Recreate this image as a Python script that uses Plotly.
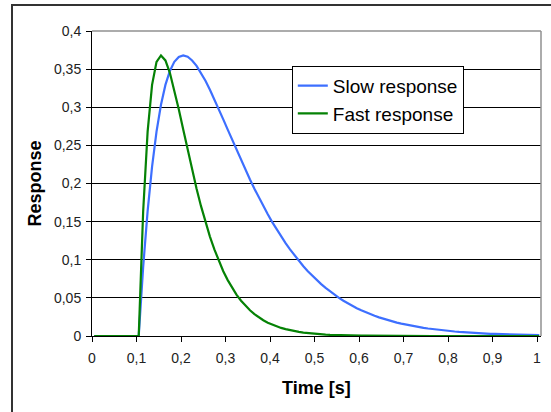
import plotly.graph_objects as go

time_s = [
    0.005, 0.015, 0.025, 0.035, 0.045, 0.055, 0.065, 0.075, 0.085, 0.095,
    0.105, 0.115, 0.125, 0.135, 0.145, 0.155, 0.165, 0.175, 0.185, 0.195,
    0.205, 0.215, 0.225, 0.235, 0.245, 0.255, 0.265, 0.275, 0.285, 0.295,
    0.305, 0.315, 0.325, 0.335, 0.345, 0.355, 0.365, 0.375, 0.385, 0.395,
    0.405, 0.415, 0.425, 0.435, 0.445, 0.455, 0.465, 0.475, 0.485, 0.495,
    0.505, 0.515, 0.525, 0.535, 0.545, 0.555, 0.565, 0.575, 0.585, 0.595,
    0.605, 0.615, 0.625, 0.635, 0.645, 0.655, 0.665, 0.675, 0.685, 0.695,
    0.705, 0.715, 0.725, 0.735, 0.745, 0.755, 0.765, 0.775, 0.785, 0.795,
    0.805, 0.815, 0.825, 0.835, 0.845, 0.855, 0.865, 0.875, 0.885, 0.895,
    0.905, 0.915, 0.925, 0.935, 0.945, 0.955, 0.965, 0.975, 0.985, 0.995,
    1.005,
]

slow_response = [
    0, 0, 0, 0, 0, 0, 0, 0, 0, 0, 0,
    0.0905, 0.1637, 0.2222, 0.2681, 0.3033, 0.3293, 0.3476, 0.3595, 0.3659, 0.3679,
    0.3662, 0.3614, 0.3543, 0.3452, 0.3347, 0.3230, 0.3106, 0.2975, 0.2841, 0.2707,
    0.2572, 0.2438, 0.2306, 0.2177, 0.2052, 0.1931, 0.1815, 0.1703, 0.1596, 0.1494,
    0.1397, 0.1304, 0.1217, 0.1135, 0.1057, 0.0984, 0.0915, 0.0850, 0.0790, 0.0733,
    0.0680, 0.0630, 0.0584, 0.0540, 0.0500, 0.0462, 0.0427, 0.0395, 0.0365, 0.0337,
    0.0311, 0.0287, 0.0265, 0.0244, 0.0225, 0.0207, 0.0191, 0.0175, 0.0162, 0.0149,
    0.0137, 0.0126, 0.0116, 0.0106, 0.0098, 0.0090, 0.0082, 0.0076, 0.0070, 0.0064,
    0.0059, 0.0054, 0.0049, 0.0045, 0.0041, 0.0038, 0.0035, 0.0032, 0.0029, 0.0027,
    0.0025, 0.0023, 0.0021, 0.0019, 0.0017, 0.0016, 0.0015, 0.0013, 0.0012, 0.0011,
]

fast_response = [
    0, 0, 0, 0, 0, 0, 0, 0, 0, 0, 0,
    0.1637, 0.2681, 0.3293, 0.3595, 0.3679, 0.3614, 0.3452, 0.3230, 0.2975, 0.2707,
    0.2438, 0.2177, 0.1931, 0.1703, 0.1494, 0.1304, 0.1135, 0.0984, 0.0850, 0.0733,
    0.0630, 0.0540, 0.0462, 0.0395, 0.0337, 0.0287, 0.0244, 0.0207, 0.0175, 0.0149,
    0.0126, 0.0106, 0.0090, 0.0076, 0.0064, 0.0054, 0.0045, 0.0038, 0.0032, 0.0027,
    0.0023, 0.0019, 0.0016, 0.0013, 0.0011, 0.0009, 0.0008, 0.0006, 0.0005, 0.0004,
    0.0004, 0.0003, 0.0003, 0.0002, 0.0002, 0.0002, 0.0001, 0.0001, 0.0001, 0.0001,
    0, 0, 0, 0, 0, 0, 0, 0, 0, 0,
    0, 0, 0, 0, 0, 0, 0, 0, 0, 0,
    0, 0, 0, 0, 0, 0, 0, 0, 0, 0,
]

x_ticks = [0, 0.1, 0.2, 0.3, 0.4, 0.5, 0.6, 0.7, 0.8, 0.9, 1]

FONT = "Arial, Liberation Sans, sans-serif"

fig = go.Figure()
fig.add_trace(go.Scatter(x=time_s, y=slow_response, mode="lines", name="Slow response",
                         line=dict(color="#3D6FFF", width=2.2)))
fig.add_trace(go.Scatter(x=time_s, y=fast_response, mode="lines", name="Fast response",
                         line=dict(color="#058205", width=2.2)))

fig.update_layout(
    width=551, height=412,
    margin=dict(l=92, r=10, t=31, b=76),
    paper_bgcolor="white", plot_bgcolor="white",
    separators=", ",
    font=dict(family=FONT, color="#222222", size=14),
    showlegend=True,
    legend=dict(x=0.445, y=0.886, xanchor="left", yanchor="top",
                bgcolor="white", bordercolor="black", borderwidth=1,
                font=dict(family=FONT, size=19, color="black"),
                tracegroupgap=0),
    xaxis=dict(range=[0, 1.009], tickvals=x_ticks, showgrid=False, zeroline=False,
               showline=True, linecolor="black", linewidth=1,
               ticks="outside", ticklen=5, tickcolor="black",
               ticklabelstandoff=4, tickfont=dict(size=14)),
    yaxis=dict(range=[0, 0.4], dtick=0.05, showgrid=True, gridcolor="black", gridwidth=1,
               zeroline=False, showline=True, linecolor="black", linewidth=1,
               ticks="outside", ticklen=5, tickcolor="black",
               ticklabelstandoff=2, tickfont=dict(size=14)),
    shapes=[
        dict(type="line", xref="paper", yref="paper", x0=0, x1=1, y0=1, y1=1,
             line=dict(color="#909090", width=1.5)),
        dict(type="line", xref="paper", yref="paper", x0=1, x1=1, y0=0, y1=1,
             line=dict(color="#909090", width=1.5)),
        dict(type="rect", xref="paper", yref="paper",
             x0=(12 - 92) / 449, x1=1.3, y0=-0.5, y1=(336 - 5) / 305,
             line=dict(color="#333333", width=2)),
    ],
    annotations=[
        dict(text="<b>Response</b>", xref="paper", yref="paper",
             x=(34 - 92) / 449, y=0.5, textangle=-90, showarrow=False,
             font=dict(family=FONT, size=18, color="black"),
             xanchor="center", yanchor="middle"),
        dict(text="<b>Time [s]</b>", xref="paper", yref="paper",
             x=(316 - 92) / 449, y=(336 - 388) / 305, showarrow=False,
             font=dict(family=FONT, size=18, color="black"),
             xanchor="center", yanchor="middle"),
    ],
)

fig.write_html("out.html", config={"displayModeBar": False},
               post_script="document.body.style.margin='0px';document.body.style.overflow='hidden';")
